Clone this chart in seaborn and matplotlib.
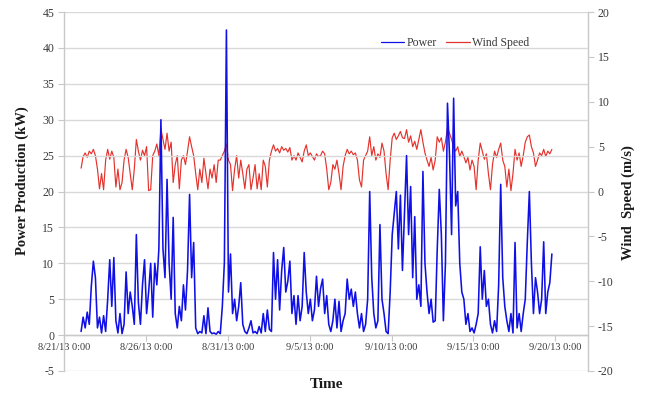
import matplotlib
matplotlib.use("Agg")
import matplotlib.pyplot as plt
import pandas as pd
import seaborn as sns

# Three-hourly readings, starting 8/22/13 1:00
start_time = "2013-08-22 01:00"
sample_freq = "3h"

power_kw = [
    0.5, 2.5, 1.0, 3.2, 1.5,  6.8, 10.3, 8.0, 1.0, 2.5,
    0.3, 2.7, 0.5, 5.0, 10.5,  4.0, 10.8, 2.0, 0.3, 3.0,
    0.2, 1.5, 8.8, 3.0, 6.0,  4.0, 1.5, 14.0, 4.5, 1.5,
    7.0, 10.5, 3.0, 6.0, 10.0,  2.5, 10.0, 7.0, 12.0, 30.0,
    12.0, 8.0, 21.7, 10.0, 5.0,  16.4, 3.0, 1.0, 4.0, 2.0,
    7.0, 3.5, 9.0, 19.6, 8.0,  12.9, 1.0, 0.2, 0.5, 0.3,
    2.7, 0.2, 3.8, 0.5, 0.2,  0.3, 0.1, 0.5, 0.2, 4.0,
    10.1, 42.5, 6.0, 11.3, 3.0,  5.0, 2.0, 4.0, 7.3, 1.5,
    0.5, 0.2, 1.0, 2.0, 0.3,  0.5, 0.2, 1.2, 0.3, 3.0,
    0.5, 3.5, 0.8, 0.5, 11.5,  5.0, 10.5, 3.5, 9.0, 12.2,
    6.0, 7.5, 10.3, 3.0, 5.5,  1.5, 5.5, 2.0, 4.0, 11.5,
    6.0, 3.0, 5.0, 2.0, 3.5,  8.2, 4.0, 6.5, 7.8, 3.0,
    5.5, 1.5, 0.5, 2.0, 5.0,  1.0, 4.7, 0.5, 2.0, 3.0,
    7.8, 5.0, 6.4, 4.0, 6.0,  3.0, 1.0, 3.0, 0.5, 1.5,
    5.0, 20.0, 8.0, 3.0, 1.0,  2.0, 15.4, 5.0, 3.0, 0.5,
    0.2, 6.0, 14.0, 17.0, 20.0,  12.0, 19.5, 9.0, 17.0, 25.0,
    14.0, 20.7, 8.0, 16.5, 5.0,  7.0, 4.0, 22.8, 10.0, 6.0,
    3.0, 5.0, 1.8, 2.0, 12.0,  20.3, 14.0, 2.0, 10.0, 32.3,
    25.0, 14.0, 33.0, 18.0, 20.0,  10.0, 6.0, 5.0, 1.5, 3.0,
    0.5, 1.0, 0.3, 1.5, 3.0,  12.3, 5.0, 9.0, 4.0, 5.0,
    1.5, 0.3, 2.0, 0.5, 7.0,  21.0, 8.0, 4.0, 2.0, 0.5,
    3.0, 0.3, 12.9, 1.0, 3.0,  0.5, 3.0, 5.0, 13.0, 20.0,
    10.0, 3.0, 8.0, 6.0, 3.0,  5.0, 13.0, 3.0, 6.0, 7.3,
    11.3,
]

wind_ms = [
    2.6, 3.9, 4.3, 3.8, 4.5,  4.2, 4.7, 4.0, 2.5, 0.3,
    2.0, 0.2, 3.5, 4.7, 3.6,  4.5, 3.8, 0.5, 2.5, 0.2,
    1.0, 3.5, 4.7, 3.8, 2.0,  0.2, 2.5, 5.8, 4.5, 3.5,
    4.6, 4.0, 5.0, 0.1, 0.2,  4.0, 4.5, 5.3, 4.0, 7.0,
    5.8, 4.7, 6.5, 4.5, 5.5,  1.0, 3.0, 4.0, 0.3, 3.5,
    4.0, 3.0, 4.5, 6.1, 5.0,  4.0, 2.0, 0.2, 2.5, 1.0,
    3.7, 2.0, 0.3, 2.5, 1.5,  3.0, 1.0, 3.5, 3.5, 4.0,
    4.5, 5.3, 3.5, 3.0, 0.1,  2.5, 4.0, 1.5, 3.5, 2.0,
    0.3, 2.5, 3.0, 0.2, 1.5,  3.0, 0.3, 2.0, 0.2, 3.5,
    2.8, 0.5, 3.5, 4.5, 5.2,  4.5, 4.8, 4.3, 5.0, 4.6,
    4.8, 4.4, 4.9, 3.5, 4.0,  3.5, 4.3, 3.8, 3.3, 4.5,
    5.2, 4.0, 4.3, 3.9, 3.5,  4.2, 3.9, 4.0, 4.5, 4.2,
    2.5, 0.2, 1.0, 3.0, 2.5,  3.5, 2.0, 0.2, 2.8, 4.0,
    4.7, 4.2, 4.5, 4.1, 4.3,  3.5, 1.3, 0.5, 3.5, 4.0,
    4.5, 6.1, 4.0, 5.0, 3.5,  4.2, 3.8, 5.4, 4.5, 2.0,
    0.2, 3.5, 6.0, 6.5, 5.8,  6.2, 6.7, 6.0, 5.9, 6.9,
    5.5, 6.2, 5.0, 5.6, 4.7,  5.8, 6.9, 5.5, 4.3, 3.5,
    2.8, 3.8, 2.4, 3.5, 6.1,  5.5, 6.0, 4.5, 5.5, 7.1,
    6.5, 5.8, 5.0, 4.5, 5.0,  3.9, 4.5, 3.9, 3.2, 3.8,
    2.4, 3.5, 2.8, 0.2, 3.5,  5.4, 4.5, 3.6, 4.2, 2.0,
    0.2, 3.0, 4.5, 3.8, 4.7,  5.4, 3.5, 2.8, 0.5, 2.5,
    0.1, 2.0, 4.7, 3.5, 4.3,  2.8, 4.0, 5.5, 6.1, 6.3,
    5.0, 4.3, 2.8, 3.5, 4.3,  4.0, 4.7, 3.9, 4.5, 4.2,
    4.7,
]

x_tick_dates = ["2013-08-21", "2013-08-26", "2013-08-31", "2013-09-05",
                "2013-09-10", "2013-09-15", "2013-09-20"]
x_tick_labels = ["8/21/13 0:00", "8/26/13 0:00", "8/31/13 0:00", "9/5/13 0:00",
                 "9/10/13 0:00", "9/15/13 0:00", "9/20/13 0:00"]
power_ticks = [-5, 0, 5, 10, 15, 20, 25, 30, 35, 40, 45]
wind_ticks = [-20, -15, -10, -5, 0, 5, 10, 15, 20]

times = pd.date_range(start_time, periods=len(power_kw), freq=sample_freq)
df = pd.DataFrame({"Time": times, "Power": power_kw, "Wind Speed": wind_ms})

sns.set_style("white")
plt.rcParams["font.family"] = ["Liberation Serif", "DejaVu Serif"]
plt.rcParams["axes.unicode_minus"] = False

text_col = "#3a3a3a"
line_gray = "#c8c8c8"

fig = plt.figure(figsize=(6.56, 3.94), dpi=100)
ax = fig.add_axes([0.0976, 0.0584, 0.7988, 0.911])
ax2 = ax.twinx()

sns.lineplot(data=df, x="Time", y="Wind Speed", ax=ax2, color="#e5322c",
             lw=0.85, legend=False)
sns.lineplot(data=df, x="Time", y="Power", ax=ax, color="#1010e6",
             lw=1.15, legend=False)

# power line above the wind line
ax.set_zorder(ax2.get_zorder() + 1)
ax.patch.set_visible(False)

ax.set_ylim(-5, 45)
ax.set_yticks(power_ticks)
ax2.set_ylim(-20, 20)
ax2.set_yticks(wind_ticks)
ax.set_xlim(pd.Timestamp("2013-08-21"), pd.Timestamp("2013-09-22"))
ax.set_xticks(pd.to_datetime(x_tick_dates))
ax.set_xticklabels(x_tick_labels)

ax.grid(axis="y", color="#d9d9d9", lw=1.0)
ax.grid(axis="x", visible=False)
ax2.grid(False)

for a in (ax, ax2):
    a.spines["top"].set_visible(False)
ax2.spines["bottom"].set_visible(False)
ax2.spines["left"].set_visible(False)
ax.spines["right"].set_visible(False)
ax.spines["bottom"].set_position(("data", 0))
ax.spines["bottom"].set_color(line_gray)
ax.spines["left"].set_color(line_gray)
ax2.spines["right"].set_color(line_gray)
for a in (ax, ax2):
    for s in a.spines.values():
        s.set_linewidth(1.0)

ax.tick_params(axis="y", which="both", left=True, length=4, width=0.8,
               color=line_gray, labelsize=8.5, labelcolor=text_col, pad=3)
ax.tick_params(axis="x", which="both", bottom=True, length=4, width=0.8,
               color=line_gray, labelsize=7.5, labelcolor=text_col, pad=2)
ax2.tick_params(axis="y", which="both", right=True, length=4, width=0.8,
                color=line_gray, labelsize=8.5, labelcolor=text_col, pad=3)

ax.set_ylabel("Power Production (kW)", fontsize=10.5, fontweight="bold",
              color="#1a1a1a")
ax.yaxis.set_label_coords(-0.066, 0.53)
ax2.set_ylabel("Wind  Speed (m/s)", fontsize=10.5, fontweight="bold",
               color="#1a1a1a", rotation=90)
ax2.yaxis.set_label_coords(1.063, 0.47)
ax.set_xlabel("Time", fontsize=11, fontweight="bold", color="#1a1a1a")
ax.xaxis.set_label_coords(0.5, -0.02)

handles = [ax.get_lines()[0], ax2.get_lines()[0]]
leg = ax.legend(handles, ["Power", "Wind Speed"], loc="center",
                bbox_to_anchor=(0.746, 0.914), ncol=2, frameon=False,
                fontsize=8.5, handlelength=2.0, handletextpad=0.2,
                columnspacing=0.8)
for t in leg.get_texts():
    t.set_color(text_col)
for h in leg.get_lines():
    h.set_linewidth(0.9)

fig.savefig("out.png", dpi=100)
